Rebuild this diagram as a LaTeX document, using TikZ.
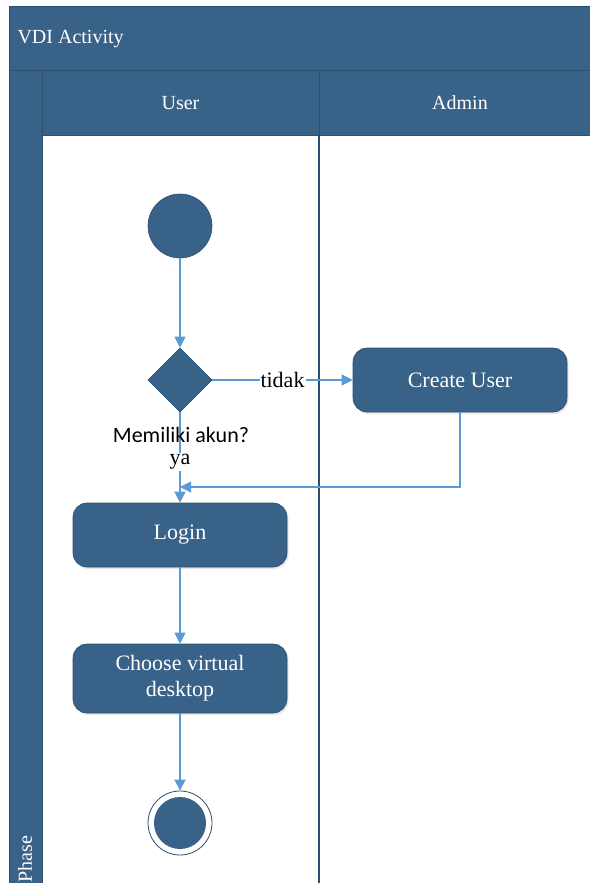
\documentclass[tikz,border=0pt]{standalone}
\usepackage{fontspec}
\setmainfont{Liberation Serif}
\newfontfamily\calib{Carlito}
\usetikzlibrary{shapes.geometric,arrows.meta,shadows}
\definecolor{bandfill}{RGB}{56,98,135}
\definecolor{bandline}{RGB}{44,80,112}
\definecolor{flow}{RGB}{91,155,213}
\tikzset{
  band/.style={fill=bandfill,draw=bandline,line width=0.8pt},
  bandtext/.style={text=white,font=\rmfamily\fontsize{20}{24}\selectfont},
  actbox/.style={rectangle,rounded corners=14pt,fill=bandfill,draw=bandline,line width=0.6pt,
    minimum width=214pt,minimum height=64pt,text=white,align=center,
    font=\rmfamily\fontsize{22}{26}\selectfont,inner sep=2pt,
    drop shadow={opacity=0.18,shadow xshift=1.5pt,shadow yshift=-2pt}},
  startdot/.style={circle,fill=bandfill,draw=bandline,line width=0.6pt,minimum size=64pt,inner sep=0pt},
  decide/.style={diamond,fill=bandfill,draw=bandline,line width=0.6pt,minimum width=64pt,minimum height=64pt,inner sep=0pt,aspect=1},
  enddot/.style={circle,fill=white,draw=bandline,line width=0.8pt,minimum size=64pt,inner sep=0pt},
  flowline/.style={draw=flow,line width=1.1pt,-{Triangle[length=11pt,width=11pt]}},
  lbl/.style={font=\rmfamily\fontsize{22}{24}\selectfont,text=black,inner sep=1pt}
}
\begin{document}
\begin{tikzpicture}[x=1pt,y=-1pt]
\useasboundingbox (0,0) rectangle (589,883);
% lanes background
\fill[white] (0,0) rectangle (589,883);
\path[band] (9,6) rectangle (600,70);
\node[bandtext,anchor=west] (title) at (14,39) {VDI Activity};
\path[band] (9,70) rectangle (42,900);
\path[band] (42,70) rectangle (319,135);
\path[band] (319,70) rectangle (600,135);
\node[bandtext] (huser) at (180.5,103) {User};
\node[bandtext] (hadmin) at (460,103) {Admin};
\node[bandtext,rotate=90,anchor=west] (phase) at (25,886) {Phase};
\draw[bandline,line width=1.2pt] (319,135) -- (319,900);
% nodes
\node[startdot] (start) at (180,226) {};
\node[decide] (dec) at (180,380) {};
\node[actbox] (create) at (460,380) {Create User};
\node[actbox] (login) at (180,535) {Login};
\node[actbox,minimum height=69pt] (choose) at (180,678.5) {Choose virtual\\desktop};
\node[enddot] (stop) at (180,823) {};
\node[circle,fill=bandfill,minimum size=52pt,inner sep=0pt] (stopin) at (stop.center) {};
\coordinate (merge) at (180,487);
% connectors
\draw[flowline] (start) -- (dec);
\draw[flowline] (dec) -- node[lbl,fill=white,pos=0.5] (tidak) {tidak} (create);
\draw[flowline] (dec) -- (login);
\node[lbl,inner sep=0pt,font=\calib\fontsize{22}{24}\selectfont] (memiliki) at (181,435) {Memiliki akun?};
\node[lbl,fill=white,inner sep=1pt] (ya) at (180,462) {ya};
\draw[flowline] (create) |- (merge);
\draw[flowline] (login) -- (choose);
\draw[flowline] (choose) -- (stop);
\end{tikzpicture}
\end{document}
